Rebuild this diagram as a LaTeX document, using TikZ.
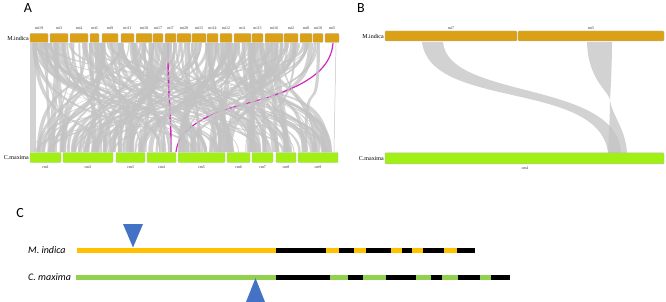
\documentclass[tikz,border=0pt]{standalone}
\usepackage{fontspec}
\setmainfont{Liberation Serif}
\newfontfamily\calib{Carlito}
\definecolor{gold}{RGB}{218,160,22}
\definecolor{lime}{RGB}{160,240,20}
\definecolor{corange}{RGB}{255,192,0}
\definecolor{cgreen}{RGB}{146,208,80}
\definecolor{cblue}{RGB}{68,114,196}
\definecolor{pinkr}{RGB}{210,40,190}
\definecolor{ribg}{RGB}{195,195,195}
\tikzset{
  topbar/.style={draw=gray!55, line width=0.4pt, fill=gold, rounded corners=0.8pt, inner sep=0pt, minimum height=9pt},
  botbar/.style={draw=gray!55, line width=0.4pt, fill=lime, rounded corners=0.8pt, inner sep=0pt, minimum height=10pt},
  chrlbl/.style={font=\fontsize{4}{4}\selectfont, inner sep=0pt, text=black!80},
  splbl/.style={font=\fontsize{6}{6}\selectfont, inner sep=0pt, anchor=east},
  panel/.style={font=\calib\fontsize{14}{14}\selectfont, inner sep=0pt},
  rib/.style={fill=ribg, fill opacity=0.75},
  trk/.style={line width=5pt},
  tri/.style={fill=cblue},
  clbl/.style={font=\calib\itshape\fontsize{10}{10}\selectfont, inner sep=0pt, anchor=west}
}
\begin{document}
\begin{tikzpicture}[x=1pt,y=-1pt]
\useasboundingbox (0,0) rectangle (666,302);

% ---------- Panel A ----------
\node[panel] (labA) at (28,8) {A};
\pgfmathsetseed{12}
\foreach \i in {1,...,95}{
  \pgfmathsetmacro\xa{30+rnd*288}
  \pgfmathsetmacro\xb{31+rnd*302}
  \pgfmathsetmacro\wa{0.6+rnd*4.5}
  \pgfmathsetmacro\wb{\wa*(0.6+rnd*0.8)}
  \pgfmathsetmacro\ca{75+rnd*65}
  \pgfmathsetmacro\cb{55+rnd*65}
  \fill[rib] (\xa,43) .. controls (\xa,\ca) and (\xb,\cb) .. (\xb,152) -- ({\xb+\wb},152) .. controls ({\xb+\wb},\cb) and ({\xa+\wa},\ca) .. ({\xa+\wa},43) -- cycle;
}
\draw[pinkr, line width=1.6pt] (168,43) .. controls (168,100) and (171,110) .. (171,152);
\draw[pinkr, line width=1.2pt] (333,43) .. controls (330,90) and (250,100) .. (215,113) .. controls (190,125) and (178,135) .. (176,152);
\foreach \i in {1,...,90}{
  \pgfmathsetmacro\xa{30+rnd*288}
  \pgfmathsetmacro\xb{31+rnd*302}
  \pgfmathsetmacro\wa{0.6+rnd*4.5}
  \pgfmathsetmacro\wb{\wa*(0.6+rnd*0.8)}
  \pgfmathsetmacro\ca{75+rnd*65}
  \pgfmathsetmacro\cb{55+rnd*65}
  \fill[rib] (\xa,43) .. controls (\xa,\ca) and (\xb,\cb) .. (\xb,152) -- ({\xb+\wb},152) .. controls ({\xb+\wb},\cb) and ({\xa+\wa},\ca) .. ({\xa+\wa},43) -- cycle;
}
\fill[rib] (30,43) -- (36,43) -- (36,152) -- (30,152) -- cycle;
\draw[ribg, line width=0.5pt] (336,43) -- (334,152);

\node[splbl] (AMi) at (29,38) {M.indica};
\node[splbl] (ACm) at (29,157.5) {C.maxima};
\foreach \n/\a/\b in {mi19/30/48, mi3/50/68, mi4/70/88, mi6/90/99, mi9/102/118, mi11/121/134, mi18/136/152, mi17/153/163, mi7/165/176, mi20/177/191, mi15/192/206, mi14/207/218, mi12/220/232, mi1/234/251, mi13/252/263, mi16/265/283, mi2/284/298, mi8/300/312, mi10/313/323, mi5/325/339}{
  \pgfmathsetmacro\w{\b-\a}
  \node[topbar, minimum width=\w pt] (A-\n) at ({(\a+\b)/2},38) {};
  \node[chrlbl] (A-\n-l) at ({(\a+\b)/2},28.5) {\n};
}
\foreach \n/\a/\b in {cm1/30/61, cm2/63/113, cm3/116/145, cm4/147/176, cm5/178/225, cm6/227/250, cm7/252/273, cm8/276/296, cm9/298/338}{
  \pgfmathsetmacro\w{\b-\a}
  \node[botbar, minimum width=\w pt] (A-\n) at ({(\a+\b)/2},157.5) {};
  \node[chrlbl] (A-\n-l) at ({(\a+\b)/2},167) {\n};
}

% ---------- Panel B ----------
\node[panel] (labB) at (361,8) {B};
\fill[rib] (422,42) .. controls (430,110) and (600,80) .. (608,153) -- (621,153) .. controls (618,80) and (448,100) .. (443,42) -- cycle;
\fill[rib] (587,42) .. controls (588,80) and (608,90) .. (610,100) .. controls (612,115) and (626,130) .. (627,153) -- (608,153) .. controls (609,130) and (610,115) .. (610,100) .. controls (611,85) and (612,60) .. (612,42) -- cycle;

\node[splbl] (BMi) at (384,36.5) {M.indica};
\node[splbl] (BCm) at (384,158.3) {C.maxima};
\node[topbar, minimum height=10pt, minimum width=132pt] (B-mi7) at (451,36) {};
\node[topbar, minimum height=10pt, minimum width=146pt] (B-mi5) at (591,36) {};
\node[chrlbl] (B-mi7-l) at (451,28) {mi7};
\node[chrlbl] (B-mi5-l) at (591,28) {mi5};
\node[botbar, minimum height=11pt, minimum width=279pt] (B-cm4) at (524.5,158.3) {};
\node[chrlbl] (B-cm4-l) at (525,168.5) {cm4};

% ---------- Panel C ----------
\node[panel] (labC) at (20,213) {C};
\node[clbl] (CMi) at (28,250) {M. indica};
\node[clbl] (CCm) at (28,277) {C. maxima};
\coordinate (mis) at (77,250);
\coordinate (mie) at (475,250);
\coordinate (cms) at (76,277);
\coordinate (cme) at (510,277);
\draw[trk, corange] (mis) -- (mie);
\foreach \a/\b in {276/326, 339/354, 366/391, 402/412, 423/444, 457/475}
  \draw[trk, black] (\a,250) -- (\b,250);
\draw[trk, cgreen] (cms) -- (cme);
\foreach \a/\b in {276/330, 348/363, 386/416, 431/442, 458/480, 491/510}
  \draw[trk, black] (\a,277) -- (\b,277);
\fill[tri] (123,224) -- (143,224) -- (133,247.5) -- cycle;
\fill[tri] (255.5,278) -- (265,302) -- (246,302) -- cycle;
\end{tikzpicture}
\end{document}
